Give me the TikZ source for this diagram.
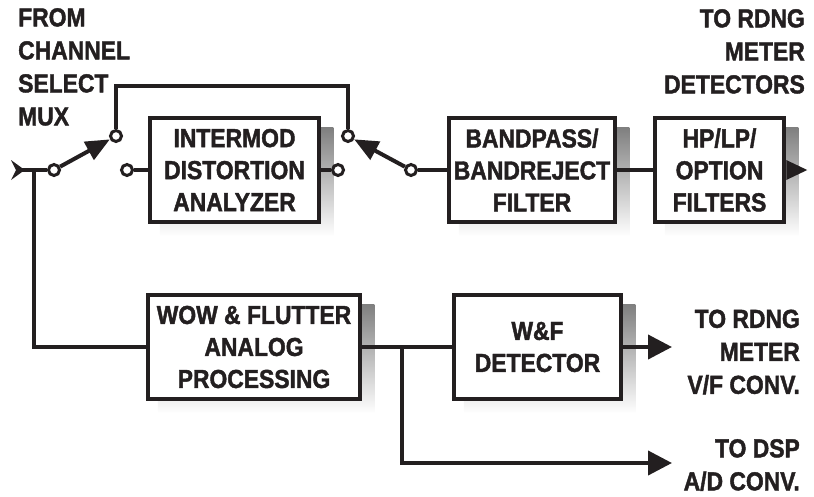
\documentclass[tikz,border=0pt]{standalone}
\usepackage{fontspec}
\setmainfont{Liberation Sans}[FakeStretch=0.88,BoldFeatures={FakeBold=1.6}]
\usetikzlibrary{arrows.meta,backgrounds,calc}
\definecolor{ink}{HTML}{231F20}
\definecolor{shade}{HTML}{D1D2D4}
\begin{document}
\begin{tikzpicture}[x=1pt,y=-1pt,
  wire/.style={draw=ink,line width=4pt},
  box/.style={draw=ink,line width=4.5pt,fill=white,align=center,inner sep=0pt,text=ink,
    font=\bfseries\fontsize{26}{32}\selectfont},
  lbl/.style={inner sep=0pt,text=ink,font=\bfseries\fontsize{26}{33}\selectfont},
  contact/.style={circle,draw=ink,line width=3pt,fill=white,minimum size=11pt,inner sep=0pt},
  arm/.style={wire,-{Triangle[length=24pt,width=20pt]}},
  outarrow/.style={wire,-{Triangle[length=24pt,width=24pt]}}]
\useasboundingbox (0,0) rectangle (814,496);

% boxes
\node[box,minimum width=169pt,minimum height=104pt] (imd) at (234.5,170) {INTERMOD\\DISTORTION\\ANALYZER};
\node[box,minimum width=166pt,minimum height=104pt] (bp) at (532,170) {BANDPASS/\\BANDREJECT\\FILTER};
\node[box,minimum width=129pt,minimum height=104pt] (hp) at (719.5,170) {HP/LP/\\OPTION\\FILTERS};
\node[box,minimum width=212pt,minimum height=104pt] (wow) at (254,347) {WOW \& FLUTTER\\ANALOG\\PROCESSING};
\node[box,minimum width=167pt,minimum height=104pt] (wf) at (537.5,347) {W\&F\\DETECTOR};

\begin{scope}[on background layer]
  \foreach \n in {imd,bp,hp,wow,wf}
    \fill[shade] ($(\n.south west)+(12,12)$) rectangle ($(\n.north east)+(12,12)$);
\end{scope}

% labels
\node[lbl,align=left,anchor=north west] (from) at (18,8) {FROM\\CHANNEL\\SELECT\\MUX};
\node[lbl,align=right,anchor=north east] (det) at (805,9) {TO RDNG\\METER\\DETECTORS};
\node[lbl,align=right,anchor=east] (vfl) at (800,352) {TO RDNG\\METER\\V/F CONV.};
\node[lbl,align=right,anchor=east] (dspl) at (800,465) {TO DSP\\A/D CONV.};

% input and switches
\coordinate (in) at (21,170);
\coordinate (j1) at (34,170);
\coordinate (k) at (232,86);
\coordinate (j2) at (402,347);
\coordinate (vf) at (672,347);
\coordinate (dsp) at (672,463);
\node[contact] (p1) at (54,170) {};
\node[contact] (t1) at (116,136) {};
\node[contact] (c1) at (127,170) {};
\node[contact] (t2) at (348,136) {};
\node[contact] (c2) at (338,170) {};
\node[contact] (p2) at (411,170) {};

\fill[ink] ($(in)+(-10,-10)$) -- ($(in)+(1,-2)$) -- ($(in)+(1,2)$) -- ($(in)+(-10,10)$) -- ($(in)+(-5,0)$) -- cycle;
\draw[wire] (in) -- (p1);
\draw[wire] (j1) |- (wow.west);
\draw[arm] (p1) -- (t1);
\draw[wire] (t1) |- (k) -| (t2);
\draw[wire] (c1) -- (imd);
\draw[wire] (imd) -- (c2);
\draw[arm] (p2) -- (t2);
\draw[wire] (p2) -- (bp);
\draw[wire] (bp) -- (hp);
\fill[ink] ($(hp.east)+(0,-10)$) -- ($(hp.east)+(21,0)$) -- ($(hp.east)+(0,10)$) -- cycle;

\draw[wire] (wow) -- (wf);
\draw[outarrow] (j2) |- (dsp);
\draw[outarrow] (wf) -- (vf);
\end{tikzpicture}
\end{document}
